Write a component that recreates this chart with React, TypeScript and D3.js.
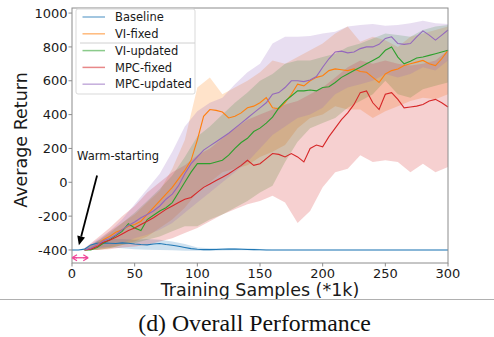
import React from "react";
import * as d3 from "d3";

// ---------- data ----------
const seriesNames = ["Baseline", "VI-fixed", "VI-updated", "MPC-fixed", "MPC-updated"];
const seriesColors = ["#1f77b4", "#ff7f0e", "#2ca02c", "#d62728", "#9467bd"];

const xTicks = [0, 50, 100, 150, 200, 250, 300];
const yTicks = [-400, -200, 0, 200, 400, 600, 800, 1000];

// baseline mean: x = 0..300 step 5
const baselineX = d3.range(0, 301, 5);
const baselineMean = [
  -400, -400, -395, -370, -360, -358, -360, -362, -358, -360,
  -365, -368, -370, -365, -362, -368, -372, -378, -385, -392,
  -396, -398, -398, -397, -396, -395, -395, -396, -397, -398,
  -399, -400, -400, -400, -400, -400, -400, -400, -400, -400,
  -400, -400, -400, -400, -400, -400, -400, -400, -400, -400,
  -400, -400, -400, -400, -400, -400, -400, -400, -400, -400, -400,
];
// baseline band: x = 0..300 step 10
const baselineBandX = d3.range(0, 301, 10);
const baselineLower = [
  -402, -402, -385, -385, -390, -395, -398, -400, -402, -404, -404, -404, -403, -402, -402, -402,
  -401, -401, -401, -401, -401, -401, -401, -401, -401, -401, -401, -401, -401, -401, -401,
];
const baselineUpper = [
  -398, -398, -345, -335, -335, -340, -335, -340, -350, -365, -385, -390, -388, -388, -390, -394,
  -399, -399, -399, -399, -399, -399, -399, -399, -399, -399, -399, -399, -399, -399, -399,
];

// other series mean: x = 10..300 step 5
const meanX = d3.range(10, 301, 5);
const viFixedMean = [
  -400, -395, -370, -340, -320, -295, -280, -260, -250, -230,
  -190, -150, -110, -70, -30, 20, 70, 130, 250, 390,
  430, 425, 415, 380, 390, 410, 440, 450, 470, 500,
  440, 435, 470, 520, 580, 570, 600, 620, 630, 660,
  670, 665, 660, 670, 655, 650, 620, 590, 640, 660,
  670, 690, 700, 710, 720, 700, 690, 730, 780,
];
const viUpdatedMean = [
  -400, -400, -385, -360, -340, -315, -290, -245, -270, -285,
  -220, -195, -170, -150, -120, -60, 0, 60, 110, 110,
  110, 120, 130, 160, 200, 235, 260, 300, 320, 350,
  385, 440, 480, 510, 540, 540, 545, 540, 560, 565,
  590, 620, 640, 660, 680, 700, 720, 740, 780, 800,
  740, 700, 715, 735, 740, 750, 760, 770, 780,
];
const mpcFixedMean = [
  -400, -395, -380, -355, -342, -325, -305, -285, -270, -250,
  -230, -210, -185, -160, -140, -120, -100, -90, -60, -30,
  -10, 10, 30, 50, 75, 100, 130, 100, 110, 140,
  170, 165, 150, 170, 150, 120, 200, 220, 210, 270,
  320, 370, 410, 460, 530, 540, 470, 430, 520, 530,
  490, 440, 445, 450, 460, 480, 490, 470, 445,
];
const mpcUpdatedMean = [
  -400, -390, -370, -345, -332, -310, -280, -255, -235, -210,
  -190, -170, -140, -100, -70, -20, 50, 110, 150, 190,
  215, 240, 265, 290, 320, 350, 380, 410, 440, 470,
  520, 530, 560, 600, 600, 595, 605, 625, 680, 730,
  770, 775, 765, 770, 790, 800, 800, 815, 850, 860,
  820, 815, 820, 860, 895, 870, 840, 870, 900,
];

// bands: x = 10..300 step 10
const bandX = d3.range(10, 301, 10);
const viFixedUpper = [
  -395, -350, -290, -240, -190, -120, -50, 80, 250, 560,
  620, 520, 560, 600, 650, 720, 700, 740, 780, 820,
  880, 920, 830, 860, 840, 800, 860, 880, 900, 920,
];
const viFixedLower = [
  -400, -400, -390, -370, -350, -320, -270, -220, -150, -60,
  0, 60, 80, 100, 150, 180, 220, 320, 380, 400,
  450, 430, 430, 380, 420, 450, 480, 500, 490, 520,
];
const viUpdatedUpper = [
  -395, -350, -300, -240, -180, -110, -40, 40, 150, 270,
  330, 400, 470, 530, 600, 640, 700, 720, 720, 740,
  760, 800, 820, 850, 880, 870, 860, 900, 920, 930,
];
const viUpdatedLower = [
  -400, -400, -390, -370, -360, -340, -320, -290, -260, -260,
  -220, -190, -150, -110, -60, -20, 120, 240, 320, 350,
  380, 440, 480, 520, 600, 520, 500, 550, 570, 590,
];
const mpcFixedUpper = [
  -390, -330, -270, -200, -140, -60, 0, 60, 100, 160,
  200, 260, 320, 370, 400, 430, 460, 480, 520, 560,
  620, 680, 720, 700, 720, 700, 690, 700, 720, 780,
];
const mpcFixedLower = [
  -400, -400, -395, -385, -380, -370, -350, -330, -300, -270,
  -230, -190, -160, -130, -110, -80, -120, -240, -170, -30,
  60, 80, 160, 120, 130, 120, 60, 110, 60, 90,
];
const mpcUpdatedUpper = [
  -390, -340, -290, -220, -130, -40, 50, 180, 330, 420,
  470, 500, 580, 650, 700, 820, 860, 860, 865, 880,
  890, 920, 930, 935, 925, 930, 940, 955, 940, 935,
];
const mpcUpdatedLower = [
  -400, -395, -380, -360, -330, -310, -280, -240, -180, -120,
  -60, 0, 60, 120, 200, 280, 330, 380, 400, 440,
  520, 560, 580, 600, 640, 620, 640, 680, 660, 720,
];

const series = [
  { name: seriesNames[0], color: seriesColors[0], mx: baselineX, mean: baselineMean, bx: baselineBandX, lo: baselineLower, hi: baselineUpper },
  { name: seriesNames[1], color: seriesColors[1], mx: meanX, mean: viFixedMean, bx: bandX, lo: viFixedLower, hi: viFixedUpper },
  { name: seriesNames[2], color: seriesColors[2], mx: meanX, mean: viUpdatedMean, bx: bandX, lo: viUpdatedLower, hi: viUpdatedUpper },
  { name: seriesNames[3], color: seriesColors[3], mx: meanX, mean: mpcFixedMean, bx: bandX, lo: mpcFixedLower, hi: mpcFixedUpper },
  { name: seriesNames[4], color: seriesColors[4], mx: meanX, mean: mpcUpdatedMean, bx: bandX, lo: mpcUpdatedLower, hi: mpcUpdatedUpper },
];

// ---------- layout ----------
const W = 494, H = 337;
const L = 72, R = 448, T = 8, B = 263;
const FONT = "DejaVu Sans, sans-serif";

export default function App() {
  const x = d3.scaleLinear().domain([0, 300]).range([L, R]);
  const y = d3.scaleLinear().domain([-477, 1030]).range([B, T]);

  const area = d3.area<[number, number, number]>()
    .x((d) => x(d[0]))
    .y0((d) => y(d[1]))
    .y1((d) => y(d[2]));
  const line = d3.line<[number, number]>()
    .x((d) => x(d[0]))
    .y((d) => y(d[1]));

  const legendX = 76, legendY = 9, legendW = 119, legendH = 85;
  const rowH = 16.8;

  // annotation anchors in data units
  const arrowTail: [number, number] = [20, 40];
  const arrowTip: [number, number] = [5.5, -372];
  const tx0 = x(arrowTail[0]), ty0 = y(arrowTail[1]);
  const tx1 = x(arrowTip[0]), ty1 = y(arrowTip[1]);
  const ang = Math.atan2(ty1 - ty0, tx1 - tx0);
  const hl = 9, hw = 4;
  const bx = tx1 - hl * Math.cos(ang), by = ty1 - hl * Math.sin(ang);
  const head = [
    [tx1, ty1],
    [bx + hw * Math.sin(ang), by - hw * Math.cos(ang)],
    [bx - hw * Math.sin(ang), by + hw * Math.cos(ang)],
  ];

  const pinkY = y(-446);
  const px0 = x(0), px1 = x(13);
  const pink = "#f0479a";

  return (
    <svg width={W} height={H} style={{ position: "absolute", left: 0, top: 0, background: "#fff" }}>
      {/* bands and lines */}
      {series.map((s) => {
        const band = s.bx.map((xv, i) => [xv, s.lo[i], s.hi[i]] as [number, number, number]);
        return (
          <path key={s.name + "b"} d={area(band) || ""} fill={s.color} fillOpacity={0.22} stroke="none" />
        );
      })}
      {series.map((s) => {
        const pts = s.mx.map((xv, i) => [xv, s.mean[i]] as [number, number]);
        return (
          <path key={s.name + "l"} d={line(pts) || ""} fill="none" stroke={s.color} strokeWidth={1.1} />
        );
      })}

      {/* frame */}
      <rect x={L} y={T} width={R - L} height={B - T} fill="none" stroke="#8c8c8c" strokeWidth={1} />

      {/* y ticks */}
      {yTicks.map((t) => (
        <g key={"y" + t}>
          <line x1={L - 3.5} x2={L} y1={y(t)} y2={y(t)} stroke="#8c8c8c" />
          <text x={L - 4.5} y={y(t)} dy="0.36em" textAnchor="end" fontFamily={FONT} fontSize={13} fill="#1a1a1a">
            {t}
          </text>
        </g>
      ))}
      {/* x ticks */}
      {xTicks.map((t) => (
        <g key={"x" + t}>
          <line x1={x(t)} x2={x(t)} y1={B} y2={B + 3.5} stroke="#8c8c8c" />
          <text x={x(t)} y={B + 14.5} textAnchor="middle" fontFamily={FONT} fontSize={13} fill="#1a1a1a">
            {t}
          </text>
        </g>
      ))}

      {/* axis titles */}
      <text x={260} y={296} textAnchor="middle" fontFamily={FONT} fontSize={17.5} fill="#1a1a1a">
        Training Samples (*1k)
      </text>
      <text transform="translate(27,140) rotate(-90)" textAnchor="middle" fontFamily={FONT} fontSize={17.5} fill="#1a1a1a">
        Average Return
      </text>

      {/* legend */}
      <rect x={legendX} y={legendY} width={legendW} height={legendH} rx={2} fill="#fff" fillOpacity={0.8} stroke="#d9d9d9" strokeWidth={1} />
      <line x1={80} x2={legendX + legendW} y1={43} y2={43} stroke="#d0d0d0" strokeWidth={1} />
      {series.map((s, i) => {
        const cy = legendY + 8 + i * rowH;
        return (
          <g key={"lg" + s.name}>
            <line x1={82.5} x2={105} y1={cy} y2={cy} stroke={s.color} strokeOpacity={0.55} strokeWidth={1.5} />
            <text x={115} y={cy} dy="0.36em" fontFamily={FONT} fontSize={11.5} fill="#1a1a1a">
              {s.name}
            </text>
          </g>
        );
      })}

      {/* warm-starting annotation */}
      <text x={77} y={160} fontFamily={FONT} fontSize={11.5} fill="#1a1a1a">
        Warm-starting
      </text>
      <line x1={tx0} y1={ty0} x2={bx} y2={by} stroke="#000" strokeWidth={1.8} />
      <polygon points={head.map((p) => p.join(",")).join(" ")} fill="#000" />

      {/* pink double arrow */}
      <line x1={px0 + 4} x2={px1 - 4} y1={pinkY} y2={pinkY} stroke={pink} strokeWidth={1.3} />
      <path d={`M${px0},${pinkY} L${px0 + 5},${pinkY - 3} M${px0},${pinkY} L${px0 + 5},${pinkY + 3} M${px0},${pinkY} L${px0 + 5},${pinkY}`} stroke={pink} strokeWidth={1.3} fill="none" />
      <path d={`M${px1},${pinkY} L${px1 - 5},${pinkY - 3} M${px1},${pinkY} L${px1 - 5},${pinkY + 3} M${px1},${pinkY} L${px1 - 5},${pinkY}`} stroke={pink} strokeWidth={1.3} fill="none" />

      {/* separator and caption */}
      <line x1={0} x2={W} y1={299.5} y2={299.5} stroke="#b0b0b0" strokeWidth={1} />
      <text x={254.5} y={331} textAnchor="middle" fontFamily="Liberation Serif, Times New Roman, serif" fontSize={23.8} fill="#111">
        (d) Overall Performance
      </text>
    </svg>
  );
}
